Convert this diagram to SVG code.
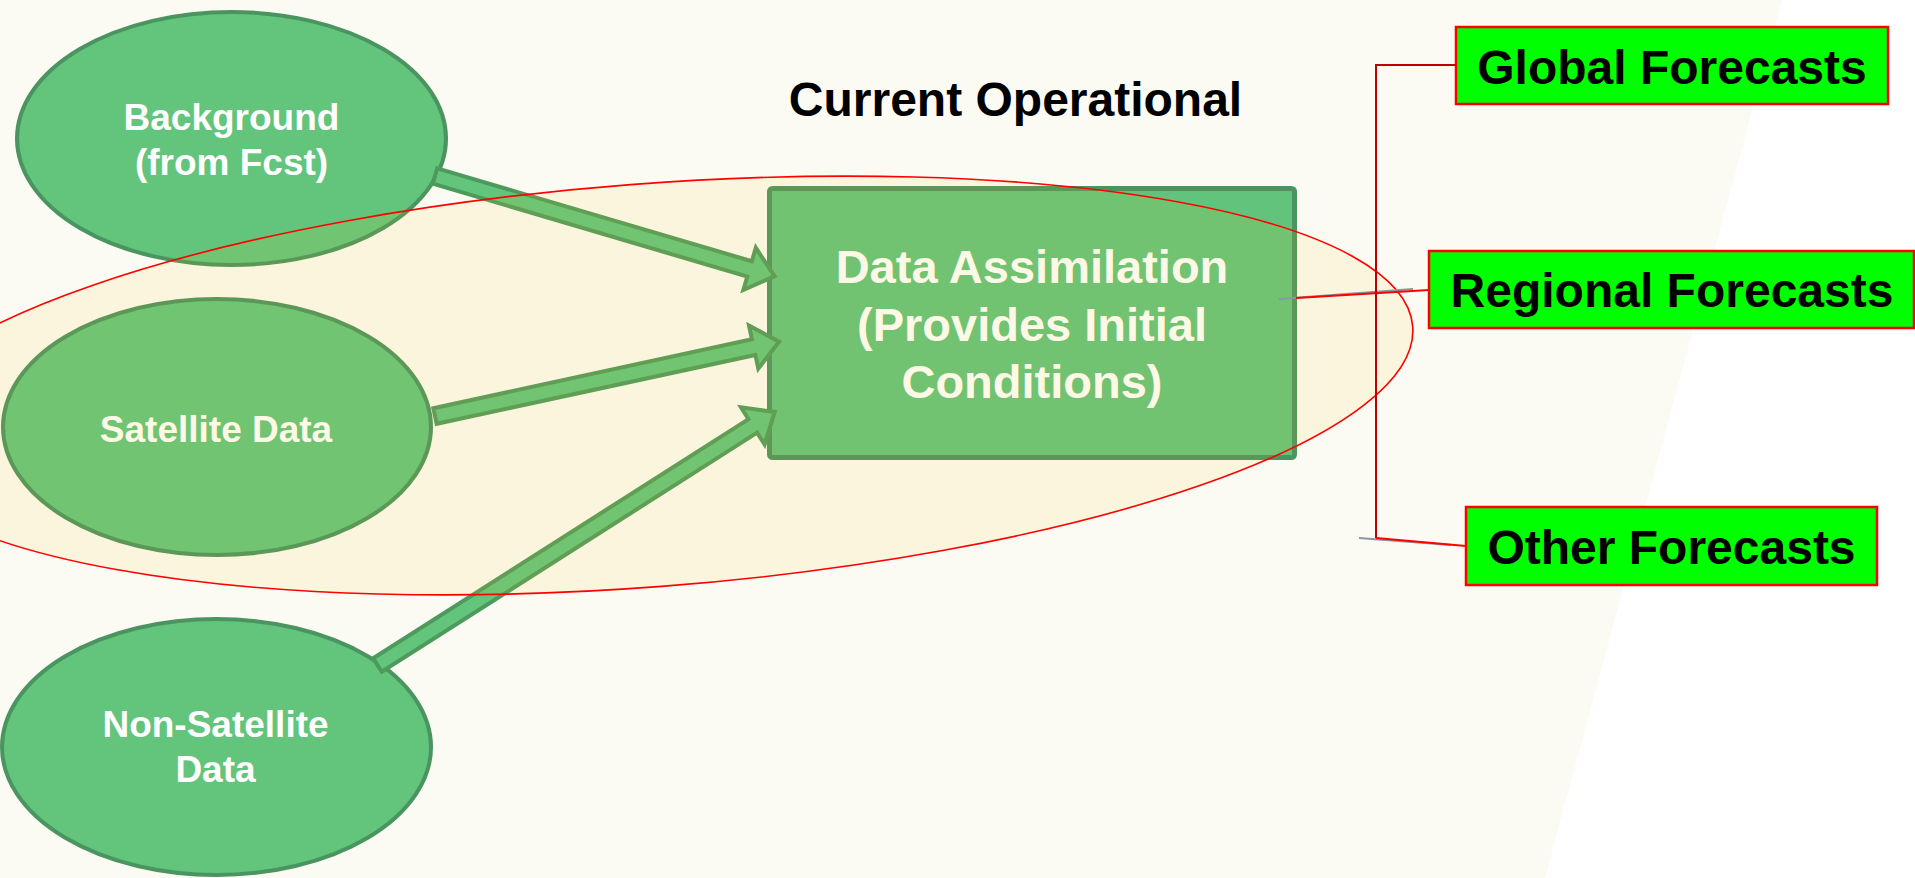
<svg xmlns="http://www.w3.org/2000/svg" width="1915" height="878" viewBox="0 0 1915 878">
  <style>
    .src { fill: #63C47C; stroke: #4A9460; stroke-width: 4; }
    .src-label { font-family: "Liberation Sans", Arial, sans-serif; font-weight: bold; font-size: 37px; fill: #FFFFFF; text-anchor: middle; }
    .core { fill: #62C37C; stroke: #4A9460; stroke-width: 5; }
    .core-label { font-family: "Liberation Sans", Arial, sans-serif; font-weight: bold; font-size: 47px; fill: #FFFFFF; text-anchor: middle; }
    .flow { fill: #63C47C; stroke: #4E9A5C; stroke-width: 4; stroke-linejoin: miter; }
    .out { fill: #00FF00; stroke: #FF0000; stroke-width: 2.5; }
    .out-label { font-family: "Liberation Sans", Arial, sans-serif; font-weight: bold; font-size: 48px; fill: #000000; text-anchor: middle; }
    .title { font-family: "Liberation Sans", Arial, sans-serif; font-weight: bold; font-size: 48px; fill: #000000; text-anchor: middle; }
    .link-dark { fill: none; stroke: #C00000; stroke-width: 2; }
    .link { fill: none; stroke: #FF0000; stroke-width: 2; }
    .link-shadow { fill: none; stroke: #8A96A3; stroke-width: 2; }
  </style>

  <!-- page backdrop: off-white panel with a slanted edge, white on the right -->
  <rect x="0" y="0" width="1915" height="878" fill="#FFFFFF"/>
  <polygon points="0,0 1782,0 1545,878 0,878" fill="#FBFBF3"/>

  <!-- input sources -->
  <g id="node-background">
    <ellipse class="src" cx="231.5" cy="138.5" rx="214.5" ry="126.5"/>
    <text class="src-label" x="231.5" y="130">Background</text>
    <text class="src-label" x="231.5" y="175">(from Fcst)</text>
  </g>
  <g id="node-satellite">
    <ellipse class="src" cx="217" cy="427" rx="214" ry="128"/>
    <text class="src-label" x="216" y="442">Satellite Data</text>
  </g>
  <g id="node-nonsatellite">
    <ellipse class="src" cx="216.5" cy="747" rx="214.5" ry="128"/>
    <text class="src-label" x="215.5" y="737">Non-Satellite</text>
    <text class="src-label" x="215.5" y="782">Data</text>
  </g>

  <!-- data assimilation core -->
  <g id="node-assimilation">
    <rect class="core" x="769.5" y="188.5" width="525" height="269" rx="3"/>
    <text class="core-label" x="1032" y="283">Data Assimilation</text>
    <text class="core-label" x="1032" y="341">(Provides Initial</text>
    <text class="core-label" x="1032" y="398">Conditions)</text>
  </g>

  <!-- block arrows feeding the assimilation box -->
  <g id="connectors-inputs">
    <path class="flow" transform="translate(435,176) rotate(16.45)" d="M0,-8 L328,-8 L328,-22 L354,0 L328,22 L328,8 L0,8 Z"/>
    <path class="flow" transform="translate(435,416) rotate(-12.2)" d="M0,-8 L326,-8 L326,-22 L352,0 L326,22 L326,8 L0,8 Z"/>
    <path class="flow" transform="translate(377.5,665) rotate(-32.5)" d="M0,-8 L445,-8 L445,-22 L471,0 L445,22 L445,8 L0,8 Z"/>
  </g>

  <!-- tinted highlight ring around the operational system -->
  <g id="highlight">
    <ellipse cx="646" cy="385.5" rx="769" ry="201.5" transform="rotate(-4.4 646 385.5)" fill="#F9C418" fill-opacity="0.1" stroke="#FF0000" stroke-width="1.6"/>
  </g>

  <g id="title">
    <text class="title" x="1015.5" y="116">Current Operational</text>
  </g>

  <!-- forecast products -->
  <g id="node-global">
    <rect class="out" x="1456" y="27" width="432" height="77"/>
    <text class="out-label" x="1672" y="84">Global Forecasts</text>
  </g>
  <g id="node-regional">
    <rect class="out" x="1429" y="251" width="485" height="77"/>
    <text class="out-label" x="1672" y="307">Regional Forecasts</text>
  </g>
  <g id="node-other">
    <rect class="out" x="1466" y="507" width="411" height="78"/>
    <text class="out-label" x="1671.5" y="564">Other Forecasts</text>
  </g>

  <!-- output links -->
  <g id="connectors-outputs">
    <line class="link-shadow" x1="1279" y1="299" x2="1413" y2="289"/>
    <line class="link" x1="1296" y1="298" x2="1429" y2="290"/>
    <line class="link-shadow" x1="1359" y1="538" x2="1451" y2="545"/>
    <polyline class="link-dark" points="1456,65 1376,65 1376,538"/>
    <line class="link" x1="1376" y1="538" x2="1466" y2="546"/>
  </g>
</svg>
